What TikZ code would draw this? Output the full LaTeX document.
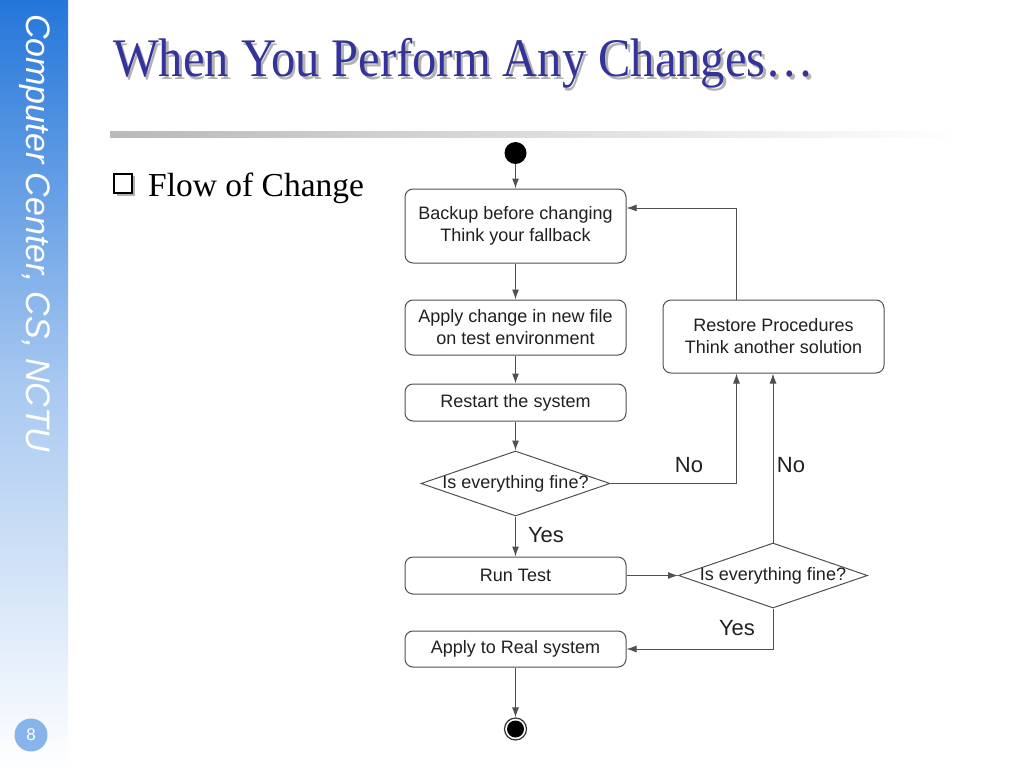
\documentclass[tikz,border=0pt]{standalone}
\usepackage{fontspec}
\setmainfont{Liberation Serif}
\setsansfont{Liberation Sans}
\usetikzlibrary{shapes.geometric,arrows.meta,calc}
\definecolor{titleblue}{HTML}{333399}
\definecolor{sideblue}{HTML}{2576DA}
\definecolor{linegray}{HTML}{505050}
\definecolor{txtgray}{HTML}{202020}
\begin{document}
\begin{tikzpicture}[x=1pt,y=-1pt,
  box/.style={draw=linegray,line width=1pt,rounded corners=8pt,minimum width=221pt,inner sep=0pt,
    align=center,text=txtgray,font=\sffamily\fontsize{18}{22}\selectfont},
  dec/.style={draw=linegray,line width=1pt,diamond,minimum width=189pt,minimum height=65pt,inner sep=0pt,
    text=txtgray,font=\sffamily\fontsize{18}{22}\selectfont},
  lbl/.style={text=txtgray,font=\sffamily\fontsize{22}{24}\selectfont,inner sep=0pt},
  flow/.style={draw=linegray,line width=1pt,-{Latex[length=10pt,width=7pt]}}]
\useasboundingbox (0,0) rectangle (1024,768);
\fill[white] (0,0) rectangle (1024,768);
% sidebar
\shade[top color=sideblue,bottom color=white,middle color=sideblue!40] (0,0) rectangle (68,768);
\node[rotate=-90,text=white,font=\sffamily\itshape\fontsize{34}{36}\selectfont,anchor=west,inner sep=0pt] (side) at (35,14) {Computer Center, CS, NCTU};
\node[circle,fill=sideblue!55,minimum size=33pt,inner sep=0pt,text=white,font=\sffamily\fontsize{17}{20}\selectfont] (pg) at (31,735) {8};
% title with shadow (one text node)
\node[anchor=base west,text=titleblue,font=\fontsize{48.5}{50}\selectfont,inner sep=0pt,yscale=1.12] (title) at (113,77)
  {\rlap{\hspace{2.5pt}\raisebox{-2.5pt}{\color{gray!60}When You Perform Any Changes…}}When You Perform Any Changes…};
\shade[left color=gray!55,right color=white] (110,131) rectangle (960,137);
% bullet
\fill[gray!60] (117,176) rectangle (135,196);
\draw[black,line width=1.4pt,fill=white] (114,174) rectangle (132,193);
\node[anchor=base west,font=\fontsize{33.5}{36}\selectfont,inner sep=0pt] (flowtxt) at (148,196) {Flow of Change};
% flowchart nodes
\node[circle,fill=black,minimum size=22pt,inner sep=0pt] (start) at (515.5,153) {};
\node[box,minimum height=74pt] (b1) at (515.5,226) {Backup before changing\\Think your fallback};
\node[box,minimum height=55pt] (b2) at (515.5,327.5) {Apply change in new file\\on test environment};
\node[box,minimum height=37pt] (b3) at (515.5,402.5) {Restart the system};
\node[dec] (d1) at (515.5,483.5) {\makebox[0pt]{Is everything fine?}};
\node[box,minimum height=37pt] (b4) at (515.5,575.5) {Run Test};
\node[dec] (d2) at (773,575.5) {\makebox[0pt]{Is everything fine?}};
\node[box,minimum height=36pt] (b5) at (515.5,649) {Apply to Real system};
\node[box,minimum height=73pt] (rs) at (773.5,336.5) {Restore Procedures\\Think another solution};
\node[circle,draw=black!80,line width=1.2pt,minimum size=22pt,inner sep=0pt] (endo) at (515.5,729) {};
\node[circle,fill=black,minimum size=17pt,inner sep=0pt] (endi) at (515.5,729) {};
% connectors
\draw[flow] (start) -- (b1);
\draw[flow] (b1) -- (b2);
\draw[flow] (b2) -- (b3);
\draw[flow] (b3) -- (d1.north);
\draw[flow] (d1.south) -- (b4);
\draw[flow] (b4) -- (d2.west);
\draw[flow] (d1.east) -| ([xshift=-37pt]rs.south);
\draw[flow] (d2.north) -- (d2.north |- rs.south);
\draw[flow] ([xshift=-37pt]rs.north) |- ([yshift=18pt]b1.east);
\draw[flow] (d2.south) |- (b5.east);
\draw[flow] (b5) -- (endo);
% labels
\node[lbl] (no1) at (689,465) {No};
\node[lbl] (no2) at (791,465) {No};
\node[lbl] (yes1) at (546,535) {Yes};
\node[lbl] (yes2) at (737,628) {Yes};
\end{tikzpicture}
\end{document}
